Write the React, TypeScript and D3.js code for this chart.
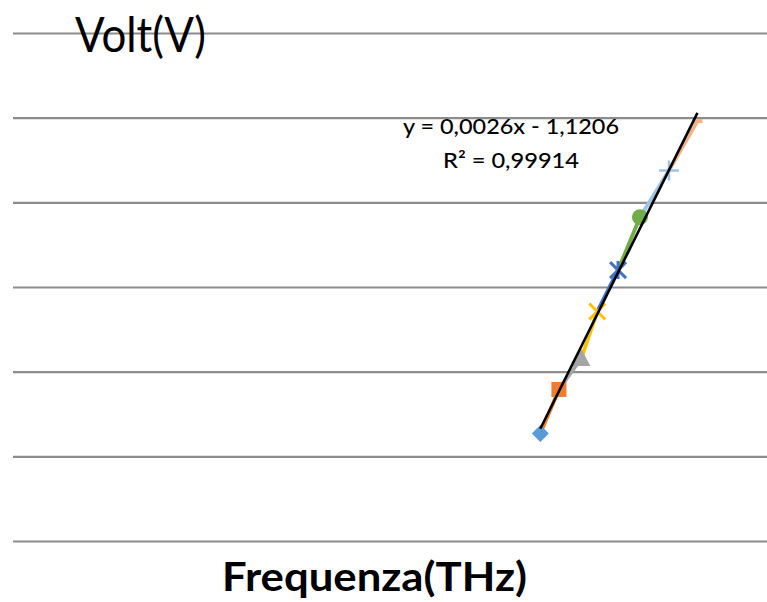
import { useEffect, useRef } from 'react';
import * as d3 from 'd3';

// frequency (THz) and stopping voltage (V) for each LED, one series per point
const frequencies = [533, 567, 608, 637, 675, 715, 768, 820];
const volts = [0.254, 0.358, 0.432, 0.542, 0.64, 0.765, 0.875, 0.992];
const markers = ['diamond', 'square', 'triangle', 'x', 'star', 'circle', 'plus', 'dash'];
const colors = ['#5b9bd5', '#ed7d31', '#a5a5a5', '#ffc000', '#4472c4', '#70ad47', '#9dc3e6', '#f4b183'];
const yTicks = [0, 0.2, 0.4, 0.6, 0.8, 1.0, 1.2];

const slope = 0.0026;
const intercept = -1.1206;

const W = 767;
const H = 602;

export default function App() {
  const svgRef = useRef<SVGSVGElement>(null);

  useEffect(() => {
    if (!svgRef.current) return;
    const svg = d3.select(svgRef.current);
    svg.selectAll('*').remove();

    const plot = { left: 13, right: 767, top: 33, bottom: 541 };

    const x = d3.scaleLinear().domain([-430, 947]).range([plot.left, plot.right]);
    const y = d3.scaleLinear().domain([0, 1.2]).range([plot.bottom, plot.top]);

    // horizontal gridlines, no labels
    const grid = svg.append('g')
      .attr('transform', `translate(${plot.left},0)`)
      .call(d3.axisLeft(y).tickValues(yTicks).tickSize(-(plot.right - plot.left)).tickFormat(() => ''));
    grid.select('.domain').remove();
    grid.selectAll('line').attr('stroke', '#8c8c8c').attr('stroke-width', 2.2);

    const pts = frequencies.map((f, i) => ({ f, v: volts[i], marker: markers[i], color: colors[i] }));

    // each series draws a segment from the previous point
    const line = d3.line<{ f: number; v: number }>().x(d => x(d.f)).y(d => y(d.v));
    pts.forEach((p, i) => {
      if (i === 0) return;
      svg.append('path')
        .attr('d', line([pts[i - 1], p]))
        .attr('fill', 'none')
        .attr('stroke', p.color)
        .attr('stroke-width', 3.8);
    });

    // markers
    pts.forEach(p => {
      const cx = x(p.f);
      const cy = y(p.v);
      const g = svg.append('g').attr('transform', `translate(${cx},${cy})`);
      switch (p.marker) {
        case 'diamond':
          g.append('path').attr('d', 'M0,-8.5L8.5,0L0,8.5L-8.5,0Z').attr('fill', p.color);
          break;
        case 'square':
          g.append('rect').attr('x', -7.5).attr('y', -7.5).attr('width', 15).attr('height', 15).attr('fill', p.color);
          break;
        case 'triangle':
          g.append('path').attr('d', 'M0,-9L9,8L-9,8Z').attr('fill', p.color);
          break;
        case 'x':
          g.append('path').attr('d', 'M-8,-8L8,8M-8,8L8,-8').attr('stroke', p.color).attr('stroke-width', 3);
          break;
        case 'star':
          g.append('path').attr('d', 'M-8,-8L8,8M-8,8L8,-8M0,-9L0,9').attr('stroke', p.color).attr('stroke-width', 3);
          break;
        case 'circle':
          g.append('circle').attr('r', 8).attr('fill', p.color);
          break;
        case 'plus':
          g.append('path').attr('d', 'M-10,0L10,0M0,-10L0,10').attr('stroke', p.color).attr('stroke-width', 2.5);
          break;
        case 'dash':
          g.append('rect').attr('x', -5).attr('y', -2).attr('width', 10).attr('height', 4).attr('fill', p.color);
          break;
      }
    });

    // linear trendline across the data range
    const [fMin, fMax] = d3.extent(frequencies) as [number, number];
    svg.append('line')
      .attr('x1', x(fMin)).attr('y1', y(slope * fMin + intercept))
      .attr('x2', x(fMax)).attr('y2', y(slope * fMax + intercept))
      .attr('stroke', '#000')
      .attr('stroke-width', 2.6);

    // equation label
    svg.append('text')
      .attr('x', 511).attr('y', 134)
      .attr('text-anchor', 'middle')
      .attr('font-family', 'Lato, sans-serif')
      .attr('font-weight', 500)
      .attr('font-size', 22)
      .attr('textLength', 216).attr('lengthAdjust', 'spacingAndGlyphs')
      .text('y = 0,0026x - 1,1206');
    svg.append('text')
      .attr('x', 511).attr('y', 168)
      .attr('text-anchor', 'middle')
      .attr('font-family', 'Lato, sans-serif')
      .attr('font-weight', 500)
      .attr('font-size', 22)
      .attr('textLength', 136).attr('lengthAdjust', 'spacingAndGlyphs')
      .text('R² = 0,99914');

    // axis titles
    svg.append('text')
      .attr('x', 75).attr('y', 52)
      .attr('font-family', 'Lato, sans-serif')
      .attr('font-size', 48)
      .attr('textLength', 131).attr('lengthAdjust', 'spacingAndGlyphs')
      .text('Volt(V)');
    svg.append('text')
      .attr('x', 222).attr('y', 591)
      .attr('font-family', 'Lato, sans-serif')
      .attr('font-weight', 'bold')
      .attr('font-size', 40)
      .attr('textLength', 305).attr('lengthAdjust', 'spacingAndGlyphs')
      .text('Frequenza(THz)');
  }, []);

  return (
    <svg
      ref={svgRef}
      width={W}
      height={H}
      style={{ position: 'absolute', left: 0, top: 0, background: '#fff' }}
    />
  );
}
